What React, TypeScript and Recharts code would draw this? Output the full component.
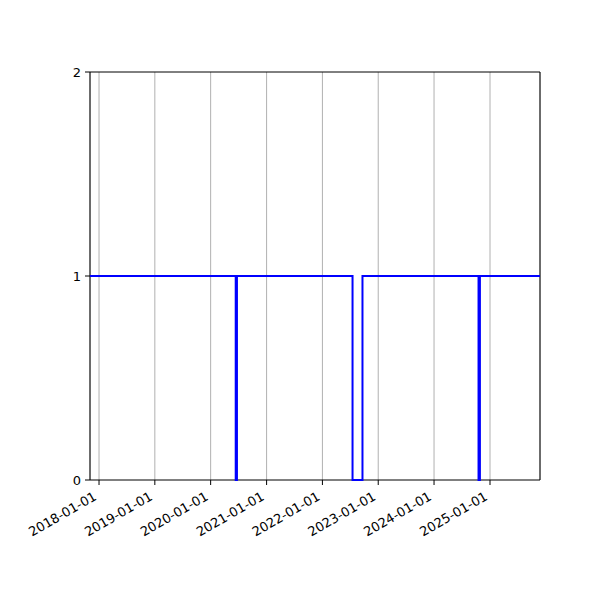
import React from 'react';
import { LineChart, Line, XAxis, YAxis, CartesianGrid, ReferenceArea } from 'recharts';

const stepDates = ['2017-11-03', '2020-06-13', '2020-06-21', '2022-07-17', '2022-09-20', '2024-10-18', '2024-10-27', '2025-11-24'];
const stepValues = [1, 0, 1, 0, 1, 0, 1, 1];
const xTickDates = ['2018-01-01', '2019-01-01', '2020-01-01', '2021-01-01', '2022-01-01', '2023-01-01', '2024-01-01', '2025-01-01'];
const yTicks = [0, 1, 2];

const data = stepDates.map((d, i) => ({ t: Date.parse(d), v: stepValues[i] }));
const xTicks = xTickDates.map((d) => Date.parse(d));
const xDomain: [number, number] = [Date.parse(stepDates[0]), Date.parse(stepDates[stepDates.length - 1])];

const fmt = (t: number) => new Date(t).toISOString().slice(0, 10);

const DateTick = (props: any) => {
  const { x, y, payload } = props;
  const ox = x - 1.5;
  const oy = y + 14;
  return (
    <text x={ox} y={oy} textAnchor="end" fontSize={13} fill="#000" fontFamily="DejaVu Sans" transform={`rotate(-30, ${ox}, ${oy})`}>
      {fmt(payload.value)}
    </text>
  );
};

export default function App() {
  return (
    <div style={{ position: 'absolute', left: 0, top: 0, width: 600, height: 600, background: '#fff' }}>
      <LineChart width={600} height={600} data={data} margin={{ top: 72, right: 60, left: 0, bottom: 40 }}>
        <CartesianGrid horizontal={false} stroke="#b0b0b0" strokeWidth={1} />
        <XAxis
          dataKey="t"
          type="number"
          scale="time"
          domain={xDomain}
          ticks={xTicks}
          interval={0}
          height={80}
          tick={<DateTick />}
          tickSize={5}
          tickMargin={0}
          axisLine={false}
          tickLine={{ stroke: '#000' }}
          allowDataOverflow
        />
        <YAxis
          type="number"
          domain={[0, 2]}
          ticks={yTicks}
          interval={0}
          width={90}
          tickSize={5}
          tickMargin={4}
          tick={{ fontSize: 13, fill: '#000', fontFamily: 'DejaVu Sans' }}
          axisLine={false}
          tickLine={{ stroke: '#000' }}
        />
        <ReferenceArea x1={xDomain[0]} x2={xDomain[1]} y1={0} y2={2} fill="none" stroke="#000" strokeWidth={1} />
        <Line type="stepAfter" dataKey="v" stroke="#0000ff" strokeWidth={2} dot={false} isAnimationActive={false} />
      </LineChart>
    </div>
  );
}
